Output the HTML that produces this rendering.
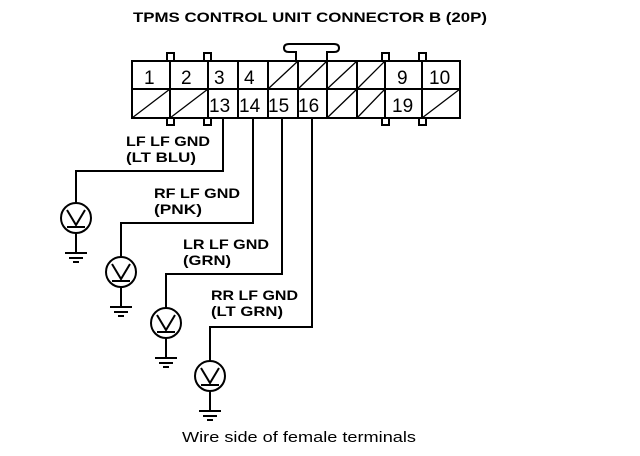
<!DOCTYPE html>
<html><head><meta charset="utf-8"><style>
html,body{margin:0;padding:0;background:#fff;}
svg{display:block;}
text{font-family:"Liberation Sans",Arial,sans-serif;fill:#000;}
.b{font-weight:bold;font-size:14px;}
.n{font-size:19px;}
</style></head><body>
<svg width="640" height="456" viewBox="0 0 640 456" xmlns="http://www.w3.org/2000/svg">
<text class="b" x="133" y="22" textLength="354" lengthAdjust="spacingAndGlyphs" font-size="15">TPMS CONTROL UNIT CONNECTOR B (20P)</text>
<g fill="none" stroke="#000" stroke-width="2">
<rect x="167" y="53" width="7" height="8"/><rect x="204" y="53" width="7" height="8"/>
<rect x="382" y="53" width="7" height="8"/><rect x="419" y="53" width="7" height="8"/>
<rect x="167" y="118" width="7" height="7"/><rect x="204" y="118" width="7" height="7"/>
<rect x="382" y="118" width="7" height="7"/><rect x="419" y="118" width="7" height="7"/>
<path d="M296 61 V52 H289 Q284 52 284 48 Q284 44 289 44 H334 Q339 44 339 48 Q339 52 334 52 H327 V61"/>
<rect x="132" y="61" width="328" height="57" fill="#fff"/>
<line x1="132" y1="89" x2="460" y2="89"/>
<line x1="170" y1="61" x2="170" y2="118"/>
<line x1="208" y1="61" x2="208" y2="118"/>
<line x1="238" y1="61" x2="238" y2="118"/>
<line x1="268" y1="61" x2="268" y2="118"/>
<line x1="298" y1="61" x2="298" y2="118"/>
<line x1="327" y1="61" x2="327" y2="118"/>
<line x1="357" y1="61" x2="357" y2="118"/>
<line x1="385" y1="61" x2="385" y2="118"/>
<line x1="422" y1="61" x2="422" y2="118"/>
</g>
<g stroke="#000" stroke-width="1.3">
<line x1="268" y1="89" x2="298" y2="61"/><line x1="298" y1="89" x2="327" y2="61"/>
<line x1="327" y1="89" x2="357" y2="61"/><line x1="357" y1="89" x2="385" y2="61"/>
<line x1="132" y1="118" x2="170" y2="89"/><line x1="170" y1="118" x2="208" y2="89"/>
<line x1="327" y1="118" x2="357" y2="89"/><line x1="357" y1="118" x2="385" y2="89"/>
<line x1="422" y1="118" x2="460" y2="89"/>
</g>
<g class="n">
<text x="144" y="84">1</text><text x="181" y="84">2</text><text x="214" y="84">3</text><text x="244" y="84">4</text>
<text x="397" y="84">9</text><text x="429" y="84">10</text>
<text x="209" y="112">13</text><text x="239" y="112">14</text><text x="268" y="112">15</text><text x="298" y="112">16</text>
<text x="392" y="112">19</text>
</g>
<g fill="none" stroke="#000" stroke-width="2">
<path d="M223 118 V171 H76 V203"/>
<path d="M253 118 V223 H121 V257"/>
<path d="M282 118 V274 H166 V308"/>
<path d="M312 118 V327 H210 V361"/>
</g>
<g fill="none" stroke="#000" stroke-width="2">
<g transform="translate(76,218)"><circle r="15"/><path d="M-9 -8 L0 7 L9 -8 M-9 9 H9 M0 15 V35 M-11 35 H11 M-7 40 H7 M-3 44 H3"/></g>
<g transform="translate(121,272)"><circle r="15"/><path d="M-9 -8 L0 7 L9 -8 M-9 9 H9 M0 15 V35 M-11 35 H11 M-7 40 H7 M-3 44 H3"/></g>
<g transform="translate(166,323)"><circle r="15"/><path d="M-9 -8 L0 7 L9 -8 M-9 9 H9 M0 15 V35 M-11 35 H11 M-7 40 H7 M-3 44 H3"/></g>
<g transform="translate(210,376)"><circle r="15"/><path d="M-9 -8 L0 7 L9 -8 M-9 9 H9 M0 15 V35 M-11 35 H11 M-7 40 H7 M-3 44 H3"/></g>
</g>
<g class="b">
<text x="126" y="146" textLength="84" lengthAdjust="spacingAndGlyphs">LF LF GND</text>
<text x="126" y="162" textLength="70" lengthAdjust="spacingAndGlyphs">(LT BLU)</text>
<text x="154" y="198" textLength="86" lengthAdjust="spacingAndGlyphs">RF LF GND</text>
<text x="154" y="214" textLength="48" lengthAdjust="spacingAndGlyphs">(PNK)</text>
<text x="183" y="249" textLength="86" lengthAdjust="spacingAndGlyphs">LR LF GND</text>
<text x="183" y="265" textLength="48" lengthAdjust="spacingAndGlyphs">(GRN)</text>
<text x="211" y="300" textLength="87" lengthAdjust="spacingAndGlyphs">RR LF GND</text>
<text x="211" y="316" textLength="72" lengthAdjust="spacingAndGlyphs">(LT GRN)</text>
</g>
<text x="182" y="442" font-size="15" textLength="234" lengthAdjust="spacingAndGlyphs">Wire side of female terminals</text>
</svg>
</body></html>
